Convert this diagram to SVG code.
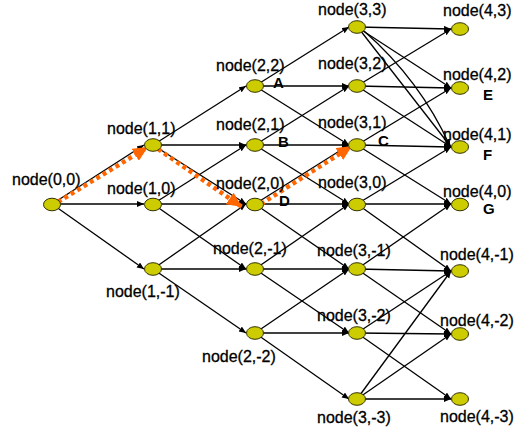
<svg xmlns="http://www.w3.org/2000/svg" width="514" height="430" viewBox="0 0 514 430">
<defs>
<style>
.e{stroke:#000;stroke-width:1.3;fill:none}
.n{fill:#CCCC00;stroke:#333300;stroke-width:1}
.t{font-family:"Liberation Sans",Arial,sans-serif;font-size:16px;fill:#000;stroke:#000;stroke-width:0.3}
.b{font-family:"Liberation Sans",Arial,sans-serif;font-size:15px;font-weight:bold;fill:#000}
.o{stroke:#FF6600;stroke-width:4.5;stroke-dasharray:4 3.5;fill:none}
</style>
<marker id="a" markerUnits="userSpaceOnUse" markerWidth="8" markerHeight="7" refX="7" refY="3" orient="auto"><path d="M0,0 L7,3 L0,6 z" fill="#000"/></marker>
<marker id="oa" markerUnits="userSpaceOnUse" markerWidth="16" markerHeight="14" refX="15" refY="7" orient="auto"><path d="M0,0 L15,7 L0,14 z" fill="#FF6600"/></marker>
</defs>
<rect width="514" height="430" fill="#fff"/>
<g id="connectors">
<g marker-end="url(#a)" class="e">
<line x1="52" y1="204" x2="144" y2="145"/>
<line x1="52" y1="204" x2="144" y2="204"/>
<line x1="52" y1="204" x2="144" y2="269"/>
<line x1="153" y1="145" x2="246" y2="86"/>
<line x1="153" y1="145" x2="246" y2="145"/>
<line x1="153" y1="145" x2="246" y2="204"/>
<line x1="153" y1="204" x2="246" y2="145"/>
<line x1="153" y1="204" x2="246" y2="204"/>
<line x1="153" y1="204" x2="246" y2="269"/>
<line x1="153" y1="269" x2="246" y2="204"/>
<line x1="153" y1="269" x2="246" y2="269"/>
<line x1="153" y1="269" x2="246" y2="333"/>
<line x1="255" y1="86" x2="349" y2="27"/>
<line x1="255" y1="86" x2="349" y2="86"/>
<line x1="255" y1="86" x2="349" y2="145"/>
<line x1="255" y1="145" x2="349" y2="86"/>
<line x1="255" y1="145" x2="349" y2="145"/>
<line x1="255" y1="145" x2="349" y2="204"/>
<line x1="255" y1="204" x2="349" y2="145"/>
<line x1="255" y1="204" x2="349" y2="204"/>
<line x1="255" y1="204" x2="349" y2="269"/>
<line x1="255" y1="269" x2="349" y2="204"/>
<line x1="255" y1="269" x2="349" y2="269"/>
<line x1="255" y1="269" x2="349" y2="333"/>
<line x1="255" y1="333" x2="349" y2="269"/>
<line x1="255" y1="333" x2="349" y2="333"/>
<line x1="255" y1="333" x2="349" y2="399"/>
<line x1="357" y1="27" x2="451" y2="29"/>
<line x1="357" y1="27" x2="451" y2="88"/>
<line x1="360" y1="30" x2="451" y2="147"/>
<path d="M364,31 Q420,80 450,146"/>
<line x1="357" y1="86" x2="451" y2="29"/>
<line x1="357" y1="86" x2="451" y2="88"/>
<line x1="357" y1="86" x2="451" y2="147"/>
<line x1="357" y1="145" x2="451" y2="88"/>
<line x1="357" y1="145" x2="451" y2="147"/>
<line x1="357" y1="145" x2="451" y2="204"/>
<line x1="357" y1="204" x2="451" y2="147"/>
<line x1="357" y1="204" x2="451" y2="204"/>
<line x1="357" y1="204" x2="451" y2="271"/>
<line x1="357" y1="269" x2="451" y2="204"/>
<line x1="357" y1="269" x2="451" y2="271"/>
<line x1="357" y1="269" x2="451" y2="334"/>
<line x1="357" y1="333" x2="451" y2="271"/>
<line x1="357" y1="333" x2="451" y2="334"/>
<line x1="357" y1="333" x2="451" y2="399"/>
<line x1="357" y1="399" x2="451" y2="271"/>
<line x1="357" y1="399" x2="451" y2="334"/>
<line x1="357" y1="399" x2="451" y2="399"/>
</g>
<g class="o" marker-end="url(#oa)">
<line x1="58" y1="202" x2="148" y2="147"/>
<line x1="158" y1="149" x2="242" y2="207"/>
<line x1="261" y1="204" x2="352" y2="146"/>
</g>
</g>
<g id="n00"><ellipse class="n" cx="52" cy="204.5" rx="8.5" ry="6.3"/><text class="t" x="12" y="185">node(0,0)</text></g>
<g id="n11"><ellipse class="n" cx="153" cy="145" rx="8.5" ry="6.3"/><text class="t" x="107" y="134">node(1,1)</text></g>
<g id="n10"><ellipse class="n" cx="153" cy="204.5" rx="8.5" ry="6.3"/><text class="t" x="107" y="194">node(1,0)</text></g>
<g id="n1m1"><ellipse class="n" cx="153" cy="269" rx="8.5" ry="6.3"/><text class="t" x="106" y="297">node(1,-1)</text></g>
<g id="n22"><ellipse class="n" cx="255" cy="86" rx="8.5" ry="6.3"/><text class="t" x="216" y="71">node(2,2)</text></g>
<g id="n21"><ellipse class="n" cx="255" cy="145" rx="8.5" ry="6.3"/><text class="t" x="216" y="130">node(2,1)</text></g>
<g id="n20"><ellipse class="n" cx="255" cy="204.5" rx="8.5" ry="6.3"/><text class="t" x="216" y="189">node(2,0)</text></g>
<g id="n2m1"><ellipse class="n" cx="255" cy="269" rx="8.5" ry="6.3"/><text class="t" x="213" y="254">node(2,-1)</text></g>
<g id="n2m2"><ellipse class="n" cx="255" cy="333" rx="8.5" ry="6.3"/><text class="t" x="202" y="362">node(2,-2)</text></g>
<g id="n33"><ellipse class="n" cx="357" cy="27" rx="8.5" ry="6.3"/><text class="t" x="318" y="15">node(3,3)</text></g>
<g id="n32"><ellipse class="n" cx="357" cy="86" rx="8.5" ry="6.3"/><text class="t" x="318" y="69">node(3,2)</text></g>
<g id="n31"><ellipse class="n" cx="357" cy="145" rx="8.5" ry="6.3"/><text class="t" x="318" y="128">node(3,1)</text></g>
<g id="n30"><ellipse class="n" cx="357" cy="204.5" rx="8.5" ry="6.3"/><text class="t" x="318" y="188">node(3,0)</text></g>
<g id="n3m1"><ellipse class="n" cx="357" cy="269" rx="8.5" ry="6.3"/><text class="t" x="317" y="256">node(3,-1)</text></g>
<g id="n3m2"><ellipse class="n" cx="357" cy="333" rx="8.5" ry="6.3"/><text class="t" x="317" y="321">node(3,-2)</text></g>
<g id="n3m3"><ellipse class="n" cx="357" cy="399" rx="8.5" ry="6.3"/><text class="t" x="317" y="423">node(3,-3)</text></g>
<g id="n43"><ellipse class="n" cx="460" cy="29" rx="8.5" ry="6.3"/><text class="t" x="443" y="16">node(4,3)</text></g>
<g id="n42"><ellipse class="n" cx="460" cy="88" rx="8.5" ry="6.3"/><text class="t" x="443" y="80">node(4,2)</text></g>
<g id="n41"><ellipse class="n" cx="460" cy="147" rx="8.5" ry="6.3"/><text class="t" x="443" y="140">node(4,1)</text></g>
<g id="n40"><ellipse class="n" cx="460" cy="204.5" rx="8.5" ry="6.3"/><text class="t" x="443" y="197">node(4,0)</text></g>
<g id="n4m1"><ellipse class="n" cx="460" cy="271" rx="8.5" ry="6.3"/><text class="t" x="440" y="260">node(4,-1)</text></g>
<g id="n4m2"><ellipse class="n" cx="460" cy="334" rx="8.5" ry="6.3"/><text class="t" x="440" y="326">node(4,-2)</text></g>
<g id="n4m3"><ellipse class="n" cx="460" cy="399" rx="8.5" ry="6.3"/><text class="t" x="440" y="422">node(4,-3)</text></g>
<g id="labels">
<text class="b" x="273" y="88">A</text>
<text class="b" x="278" y="147">B</text>
<text class="b" x="378" y="146">C</text>
<text class="b" x="279" y="206">D</text>
<text class="b" x="483" y="100">E</text>
<text class="b" x="483" y="160">F</text>
<text class="b" x="483" y="214">G</text>
</g>
</svg>
